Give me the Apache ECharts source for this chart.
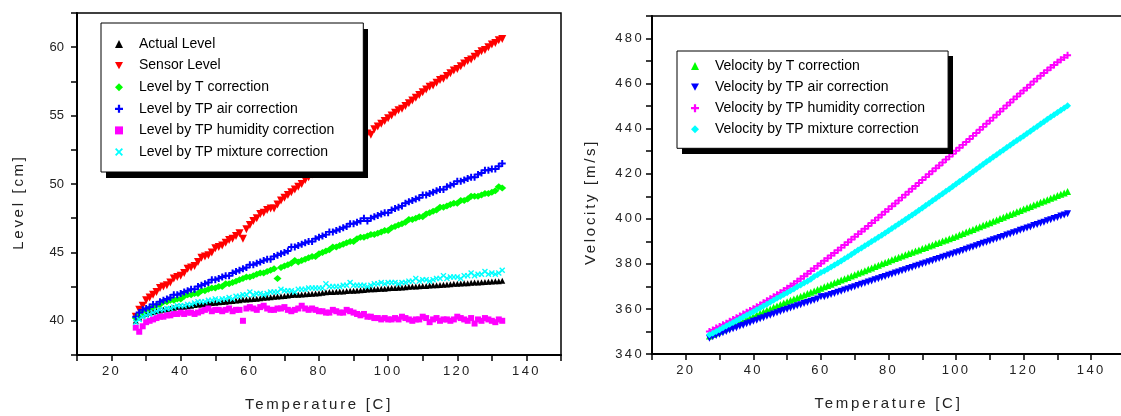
<!DOCTYPE html>
<html>
<head>
<meta charset="utf-8">
<script src="https://cdn.jsdelivr.net/npm/echarts@6/dist/echarts.min.js"></script>
<style>html,body{margin:0;padding:0;background:#fff}#chart{width:1121px;height:416px}</style>
</head>
<body>
<div id="chart"></div>
<script>
// ---------- data (one reading per degree, 27..133 C) ----------
const temps = [27,28,29,30,31,32,33,34,35,36,37,38,39,40,41,42,43,44,45,46,47,48,49,50,51,52,53,54,55,56,57,58,59,60,61,62,63,64,65,66,67,68,69,70,71,72,73,74,75,76,77,78,79,80,81,82,83,84,85,86,87,88,89,90,91,92,93,94,95,96,97,98,99,100,101,102,103,104,105,106,107,108,109,110,111,112,113,114,115,116,117,118,119,120,121,122,123,124,125,126,127,128,129,130,131,132,133];

// Left chart: Level [cm]
const actualLevel = [40.0,40.25,40.4,40.5,40.6,40.65,40.7,40.75,40.8,40.85, 40.9,40.95,41.0,41.0,41.02,41.06,41.1,41.15,41.2,41.2, 41.22,41.26,41.3,41.32,41.35,41.38,41.4,41.42,41.45,41.48, 41.5,41.55,41.55,41.58,41.6,41.62,41.65,41.68,41.7,41.72, 41.75,41.78,41.8,41.82,41.85,41.88,41.9,41.9,41.92,41.94, 41.95,41.98,42.0,42.02,42.05,42.08,42.1,42.1,42.12,42.14, 42.15,42.18,42.2,42.2,42.22,42.24,42.25,42.28,42.3,42.3, 42.32,42.34,42.35,42.38,42.4,42.4,42.42,42.44,42.45,42.48, 42.5,42.5,42.52,42.54,42.55,42.58,42.6,42.6,42.62,42.64, 42.65,42.68,42.7,42.7,42.72,42.74,42.75,42.78,42.8,42.8, 42.82,42.84,42.85,42.88,42.9,42.9,42.92];
const sensorLevel = [40.3,40.8,41.1,41.5,41.7,41.9,42.1,42.4,42.5,42.6, 42.8,43.1,43.2,43.3,43.5,43.8,43.9,44.0,44.3,44.6, 44.7,44.8,45.0,45.3,45.4,45.5,45.7,45.9,46.0,46.2, 46.4,46.0,46.7,47.0,47.3,47.5,47.8,47.9,48.1,48.2, 48.2,48.5,48.8,49.0,49.2,49.4,49.6,49.8,50.0,50.3, 50.5,50.7,50.9,51.1,51.3,51.5,51.7,51.9,52.1,52.3, 52.5,52.7,52.9,53.1,53.2,53.4,53.5,53.7,53.6,54.0, 54.2,54.4,54.6,54.8,55.0,55.2,55.4,55.5,55.7,55.9, 56.1,56.3,56.5,56.7,56.9,57.1,57.2,57.4,57.6,57.7, 57.9,58.1,58.3,58.4,58.6,58.8,59.0,59.1,59.3,59.5, 59.7,59.8,60.0,60.2,60.3,60.5,60.6];
const levelT = [40.2,40.4,40.6,40.8,40.9,41.0,41.1,41.2,41.4,41.4, 41.5,41.5,41.6,41.6,41.8,41.9,41.9,42.0,42.0,42.2, 42.2,42.3,42.4,42.4,42.5,42.5,42.7,42.7,42.8,42.9, 43.0,43.1,43.2,43.2,43.3,43.4,43.5,43.5,43.6,43.7, 43.8,43.1,43.9,44.0,44.1,44.2,44.4,44.3,44.4,44.5, 44.6,44.7,44.7,44.9,45.0,45.1,45.2,45.4,45.4,45.5, 45.6,45.7,45.8,45.8,46.0,46.1,46.1,46.2,46.3,46.3, 46.4,46.5,46.6,46.6,46.8,46.9,47.0,47.1,47.2,47.4, 47.4,47.5,47.6,47.6,47.8,47.9,48.0,48.1,48.3,48.3, 48.4,48.5,48.6,48.6,48.8,48.8,48.9,49.1,49.1,49.1, 49.2,49.3,49.3,49.4,49.5,49.8,49.7];
const levelTPAir = [40.3,40.6,40.8,40.9,41.0,41.2,41.2,41.4,41.5,41.6, 41.7,41.9,41.9,42.0,42.1,42.2,42.3,42.3,42.5,42.6, 42.7,42.8,43.0,43.0,43.1,43.2,43.3,43.3,43.5,43.6, 43.7,43.8,43.9,44.1,44.1,44.2,44.3,44.4,44.5,44.5, 44.7,44.8,44.9,45.0,45.1,45.4,45.4,45.5,45.6,45.7, 45.8,45.8,46.0,46.1,46.2,46.3,46.5,46.5,46.6,46.7, 46.8,46.9,47.1,47.1,47.2,47.3,47.5,47.3,47.5,47.6, 47.7,47.8,47.9,47.9,48.1,48.2,48.3,48.4,48.6,48.7, 48.8,48.9,49.0,49.2,49.2,49.3,49.4,49.5,49.6,49.6, 49.8,49.9,50.0,50.2,50.2,50.3,50.4,50.5,50.5,50.7, 50.8,51.0,51.0,51.1,51.1,51.3,51.5];
const levelTPHumidity = [39.5,39.2,39.6,39.9,40.0,40.1,40.2,40.3,40.3,40.4, 40.4,40.5,40.5,40.6,40.5,40.6,40.6,40.5,40.6,40.7, 40.8,40.9,40.7,40.8,40.8,40.7,40.8,40.9,40.7,40.8, 40.8,40.0,40.9,41.0,40.9,40.8,41.0,41.1,40.9,40.8, 40.8,40.9,40.9,41.0,40.8,40.7,40.8,40.9,41.1,40.9, 40.8,40.9,40.8,40.7,40.7,40.6,40.6,40.8,40.7,40.6, 40.6,40.8,40.7,40.6,40.5,40.4,40.5,40.3,40.3,40.2, 40.2,40.1,40.2,40.1,40.1,40.2,40.1,40.3,40.2,40.1, 40.0,40.1,40.1,40.3,40.2,39.9,40.1,40.2,40.0,40.1, 40.1,40.0,40.1,40.3,40.2,40.1,40.0,40.2,39.8,40.1, 40.0,40.2,40.1,40.0,39.9,40.1,40.0];
const levelTPMixture = [39.9,40.1,40.3,40.4,40.5,40.6,40.7,40.8,40.8,40.9, 40.9,41.0,41.1,41.1,41.1,41.2,41.2,41.3,41.4,41.4, 41.4,41.5,41.5,41.6,41.5,41.6,41.6,41.7,41.6,41.8, 41.8,41.9,41.9,42.1,41.9,42.0,42.0,41.9,42.0,42.1, 42.1,42.1,42.3,42.2,42.2,42.2,42.1,42.3,42.3,42.3, 42.4,42.4,42.4,42.4,42.4,42.7,42.5,42.5,42.5,42.5, 42.6,42.6,42.8,42.6,42.6,42.6,42.6,42.5,42.6,42.7, 42.7,42.8,42.7,42.8,42.8,42.8,42.7,42.8,42.8,42.9, 42.9,43.1,42.9,43.0,43.0,42.9,43.0,43.1,43.1,43.3, 43.1,43.2,43.2,43.2,43.1,43.3,43.3,43.5,43.3,43.4, 43.4,43.6,43.4,43.5,43.4,43.5,43.7];

// Right chart: Velocity [m/s]
const velT = [348.0,348.7,349.4,350.1,350.8,351.5,352.2,352.9,353.5,354.2, 354.8,355.5,356.1,356.8,357.4,358.1,358.7,359.4,360.0,360.7, 361.3,362.0,362.6,363.2,363.8,364.4,365.0,365.6,366.2,366.8, 367.4,368.0,368.6,369.2,369.8,370.4,371.0,371.6,372.2,372.8, 373.4,374.0,374.6,375.2,375.8,376.4,377.0,377.6,378.2,378.8, 379.4,380.0,380.6,381.2,381.8,382.4,382.9,383.5,384.0,384.6, 385.1,385.7,386.2,386.8,387.3,387.9,388.4,389.0,389.5,390.1, 390.6,391.2,391.7,392.3,392.9,393.5,394.1,394.7,395.3,395.9, 396.5,397.1,397.7,398.3,398.9,399.5,400.1,400.7,401.3,401.9, 402.5,403.1,403.7,404.3,404.9,405.5,406.1,406.7,407.3,407.9, 408.5,409.1,409.7,410.3,410.9,411.5,412.1];
const velTPAir = [347.0,347.6,348.2,348.8,349.4,350.0,350.6,351.2,351.7,352.3, 352.8,353.4,353.9,354.5,355.0,355.6,356.1,356.7,357.2,357.8, 358.3,358.9,359.4,359.9,360.4,360.9,361.4,361.9,362.4,362.9, 363.4,363.9,364.4,365.4,365.4,365.9,366.4,366.9,367.4,367.9, 368.4,368.9,369.4,369.9,370.4,370.9,371.4,371.9,372.4,372.9, 373.4,373.9,374.4,374.9,375.4,375.9,376.4,376.9,377.4,377.9, 378.4,378.9,379.4,379.9,380.4,380.9,381.4,381.9,382.4,382.9, 383.4,383.9,384.4,384.9,385.4,385.9,386.5,387.0,387.5,388.0, 388.6,389.1,389.6,390.1,390.7,391.2,391.7,392.2,392.8,393.3, 393.8,394.3,394.9,395.4,395.9,396.4,397.0,397.5,398.0,398.5, 399.1,399.6,400.1,400.6,401.2,401.7,402.2];
const velTPHumidity = [350.0,350.7,351.5,352.2,353.0,353.7,354.5,355.3,356.1,356.9, 357.7,358.5,359.3,360.1,361.0,361.8,362.7,363.6,364.5,365.4, 366.3,367.2,368.2,369.2,370.2,371.2,372.3,373.4,374.5,375.6, 376.8,377.9,379.1,380.2,381.4,382.5,383.7,384.8,386.0,387.2, 388.4,389.6,390.8,392.0,393.2,394.4,395.6,396.8,398.1,399.3, 400.6,401.8,403.1,404.3,405.6,406.8,408.1,409.4,410.7,412.0, 413.3,414.6,415.9,417.2,418.5,419.8,421.1,422.4,423.7,425.0, 426.3,427.6,428.9,430.2,431.5,432.8,434.1,435.4,436.8,438.1, 439.5,440.8,442.2,443.5,444.9,446.2,447.6,448.9,450.3,451.6, 453.0,454.3,455.6,456.9,458.2,459.5,460.9,462.2,463.5,464.7, 465.9,467.1,468.3,469.5,470.6,471.6,472.6];
const velTPMixture = [348.5,349.2,350.0,350.8,351.6,352.4,353.2,354.0,354.8,355.6, 356.4,357.2,358.0,358.8,359.6,360.4,361.3,362.1,363.0,363.8, 364.7,365.5,366.4,367.2,368.1,368.9,369.8,370.6,371.5,372.3, 373.2,374.4,375.2,376.2,376.8,377.7,378.6,379.5,380.4,381.3, 382.3,383.2,384.2,385.1,386.1,387.0,388.0,388.9,389.9,390.8, 391.8,392.7,393.7,394.7,395.7,396.7,397.7,398.7,399.7,400.7, 401.7,402.7,403.8,404.8,405.9,406.9,408.0,409.0,410.1,411.1, 412.2,413.2,414.3,415.4,416.5,417.6,418.7,419.8,420.9,422.0, 423.1,424.2,425.3,426.3,427.4,428.4,429.5,430.5,431.6,432.6, 433.7,434.7,435.8,436.8,437.9,438.9,440.0,441.0,442.1,443.1, 444.2,445.2,446.2,447.2,448.2,449.2,450.2];

// axis ranges
const tempRange = [10, 150];
const levelRange = [37.5, 62.5];
const velRange = [340, 490];

// ---------- letter-spaced text for axis texts (marker: family list containing Arial) ----------
(function () {
  const proto = CanvasRenderingContext2D.prototype;
  const orig = proto.fillText;
  proto.fillText = function (t, x, y, w) {
    if ('letterSpacing' in this) {
      const f = this.font || '';
      if (f.indexOf('Arial') >= 0) {
        const m = /([\d.]+)px/.exec(f);
        const s = m ? parseFloat(m[1]) : 13;
        this.letterSpacing = (s * 0.18).toFixed(2) + 'px';
      } else {
        this.letterSpacing = '0px';
      }
    }
    return w === undefined ? orig.call(this, t, x, y) : orig.call(this, t, x, y, w);
  };
})();

const SPACED = "'Liberation Sans', Arial, sans-serif";
const PLAIN = "'Liberation Sans', sans-serif";

const DOWN = 'path://M0,0L10,0L5,9Z';
const PLUS = 'path://M3.6,0H6.4V3.6H10V6.4H6.4V10H3.6V6.4H0V3.6H3.6Z';
const CROSS = 'path://M0,1.6L1.6,0L5,3.4L8.4,0L10,1.6L6.6,5L10,8.4L8.4,10L5,6.6L1.6,10L0,8.4L3.4,5Z';

function pts(arr) { return temps.map((t, i) => [t, arr[i]]); }

function xAxisCfg(gridIndex) {
  return {
    type: 'value', gridIndex, min: tempRange[0], max: tempRange[1], interval: 10,
    axisLine: { show: true, onZero: false, lineStyle: { color: '#000', width: 2 } },
    axisTick: { show: true, inside: false, length: 6, lineStyle: { color: '#000', width: 1.5 } },
    axisLabel: { interval: 0, margin: 10, fontSize: 13, fontFamily: SPACED, color: '#222',
      formatter: v => (v % 20 === 0 && v >= 20 && v <= 140) ? String(v) : '' },
    splitLine: { show: false },
    name: 'Temperature [C]', nameLocation: 'middle', nameGap: 42,
    nameTextStyle: { fontSize: 15, fontFamily: SPACED, color: '#222' }
  };
}

const legendText = { fontSize: 14, lineHeight: 14, fontFamily: PLAIN, color: '#000', padding: [0, 0, 0, 11] };
const legendBox = { backgroundColor: '#fff', borderColor: '#000', borderWidth: 1,
  orient: 'vertical', itemWidth: 8, itemHeight: 8, selectedMode: false, textStyle: legendText, z: 5 };

function sc(name, arr, xi, symbol, size, color) {
  return { type: 'scatter', name, xAxisIndex: xi, yAxisIndex: xi, data: pts(arr), symbol, symbolSize: size,
    itemStyle: { color, opacity: 1 }, silent: true, animation: false };
}

const option = {
  animation: false,
  backgroundColor: '#fff',
  grid: [
    { left: 77, top: 13, right: 560, bottom: 61, show: true, borderColor: '#000', borderWidth: 1.5, outerBoundsMode: 'none', containLabel: false },
    { left: 652, top: 16, right: -4, bottom: 62, show: true, borderColor: '#000', borderWidth: 1.5, outerBoundsMode: 'none', containLabel: false }
  ],
  xAxis: [xAxisCfg(0), xAxisCfg(1)],
  yAxis: [
    { type: 'value', gridIndex: 0, min: levelRange[0], max: levelRange[1], interval: 2.5,
      axisLine: { show: true, onZero: false, lineStyle: { color: '#000', width: 2 } },
      axisTick: { show: true, length: 6, lineStyle: { color: '#000', width: 1.5 } },
      axisLabel: { interval: 0, margin: 13, fontSize: 13, fontFamily: PLAIN, color: '#222',
        formatter: v => (Math.abs(v % 5) < 1e-9) ? String(v) : '' },
      splitLine: { show: false },
      name: 'Level [cm]', nameLocation: 'middle', nameRotate: 90, nameGap: 51,
      nameTextStyle: { fontSize: 15, fontFamily: SPACED, color: '#222', padding: [0, 36, 0, 0] } },
    { type: 'value', gridIndex: 1, min: velRange[0], max: velRange[1], interval: 10,
      axisLine: { show: true, onZero: false, lineStyle: { color: '#000', width: 2 } },
      axisTick: { show: true, length: 6, lineStyle: { color: '#000', width: 1.5 } },
      axisLabel: { interval: 0, margin: 8, fontSize: 13, fontFamily: SPACED, color: '#222',
        formatter: v => (v % 20 === 0) ? String(v) : '' },
      splitLine: { show: false },
      name: 'Velocity [m/s]', nameLocation: 'middle', nameRotate: 90, nameGap: 54,
      nameTextStyle: { fontSize: 15, fontFamily: SPACED, color: '#222', padding: [0, 34, 0, 0] } }
  ],
  legend: [
    Object.assign({}, legendBox, { left: 101, top: 23, itemGap: 7.6, padding: [14, 29, 13, 14],
      data: ['Actual Level', 'Sensor Level', 'Level by T correction', 'Level by TP air correction',
             'Level by TP humidity correction', 'Level by TP mixture correction'] }),
    Object.assign({}, legendBox, { left: 677, top: 51, itemGap: 7.1, padding: [8, 23, 12, 14],
      data: ['Velocity by T correction', 'Velocity by TP air correction',
             'Velocity by TP humidity correction', 'Velocity by TP mixture correction'] })
  ],
  // drop shadows behind the two legend boxes
  graphic: [
    { type: 'rect', z: 4, silent: true, shape: { x: 106, y: 29, width: 262, height: 149 }, style: { fill: '#000' } },
    { type: 'rect', z: 4, silent: true, shape: { x: 682, y: 56, width: 271, height: 98 }, style: { fill: '#000' } }
  ],
  series: [
    sc('Actual Level', actualLevel, 0, 'triangle', 6, '#000000'),
    sc('Sensor Level', sensorLevel, 0, DOWN, 8, '#ff0000'),
    sc('Level by T correction', levelT, 0, 'diamond', [8, 7], '#00ff00'),
    sc('Level by TP air correction', levelTPAir, 0, PLUS, 7, '#0000ff'),
    sc('Level by TP humidity correction', levelTPHumidity, 0, 'rect', 6, '#ff00ff'),
    sc('Level by TP mixture correction', levelTPMixture, 0, CROSS, 6, '#00ffff'),
    sc('Velocity by T correction', velT, 1, 'triangle', 7, '#00ff00'),
    sc('Velocity by TP air correction', velTPAir, 1, DOWN, 7, '#0000ff'),
    sc('Velocity by TP humidity correction', velTPHumidity, 1, PLUS, 7, '#ff00ff'),
    sc('Velocity by TP mixture correction', velTPMixture, 1, 'diamond', 7, '#00ffff')
  ]
};

const chart = echarts.init(document.getElementById('chart'), null, { renderer: 'canvas', width: 1121, height: 416 });
chart.setOption(option);
</script>
</body>
</html>
